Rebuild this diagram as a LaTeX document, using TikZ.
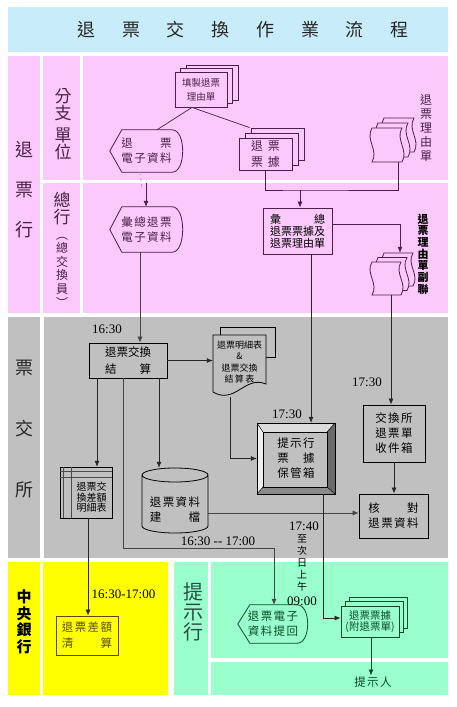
\documentclass[tikz,border=0pt]{standalone}
\usepackage{fontspec}
\setmainfont{Liberation Serif}
\newfontfamily\cjk{Noto Sans CJK TC}
\newfontfamily\cjkw[LetterSpace=12]{Noto Sans CJK TC}
\usetikzlibrary{calc,arrows.meta}
\pgfdeclarelayer{lane}
\pgfdeclarelayer{back}
\pgfsetlayers{lane,back,main}
\definecolor{tblue}{HTML}{C8ECFA}
\definecolor{pinkbg}{HTML}{FBC9FB}
\definecolor{graybg}{HTML}{C0C0C0}
\definecolor{yelbg}{HTML}{FFFF00}
\definecolor{grnbg}{HTML}{99FFCC}
\definecolor{pinkln}{HTML}{4A2048}
\definecolor{grnln}{HTML}{0A4A2A}
\definecolor{yelln}{HTML}{5A4A00}
\definecolor{lnk}{HTML}{262626}
\definecolor{lnsoft}{HTML}{454545}
\definecolor{bvA}{HTML}{DCDCDC}
\definecolor{bvB}{HTML}{EEEEEE}
\definecolor{bvC}{HTML}{6A6A6A}
\definecolor{bvD}{HTML}{8A8A8A}
\definecolor{tiship}{HTML}{2C4C44}
\newcommand\fsz[2]{\fontsize{#1}{#2}\selectfont}
\newcommand\dispshape[2]{%
  \draw[#2] (#1.west) -- ($(#1.north west)+(12,0)$) -- ($(#1.north east)+(-11,0)$)
    .. controls ($(#1.north east)+(3,0)$) and ($(#1.south east)+(3,0)$) .. ($(#1.south east)+(-11,0)$)
    -- ($(#1.south west)+(12,0)$) -- cycle;}
\newcommand\wavesheet[5]{%
  \draw[#5] (#1,#2) -- ({#1+#3},#2)
    .. controls ({#1+#3-7},{#2+0.35*#4}) and ({#1+#3+7},{#2+0.65*#4}) .. ({#1+#3},{#2+#4})
    -- (#1,{#2+#4})
    .. controls ({#1+7},{#2+0.65*#4}) and ({#1-7},{#2+0.35*#4}) .. (#1,#2) -- cycle;}
\begin{document}
\begin{tikzpicture}[x=1pt,y=-1pt,
  ptext/.style={inner sep=0pt, align=center, text=pinkln, font=\cjkw\fsz{11.5}{15}},
  pbox/.style={ptext, draw=pinkln, fill=pinkbg, line width=0.8pt},
  pshape/.style={draw=pinkln, fill=pinkbg, line width=0.8pt},
  gtext/.style={inner sep=0pt, align=center, text=black, font=\cjkw\fsz{11.5}{15}},
  gbox/.style={gtext, draw=black, fill=graybg, line width=0.8pt},
  gshape/.style={draw=black, fill=graybg, line width=0.8pt},
  ybox/.style={inner sep=0pt, align=center, text=yelln, font=\cjkw\fsz{11.5}{16}, draw=yelln, fill=yelbg, line width=0.8pt},
  gntext/.style={inner sep=0pt, align=center, text=grnln, font=\cjkw\fsz{11.5}{15}},
  gnbox/.style={gntext, draw=grnln, fill=grnbg, line width=0.8pt},
  gnshape/.style={draw=grnln, fill=grnbg, line width=0.8pt},
  vt/.style={inner sep=0pt, align=center},
  tm/.style={inner sep=0pt, font=\fsz{13}{13}, text=black},
  pln/.style={draw=pinkln, line width=0.7pt},
  parr/.style={pln, -{Latex[length=6pt,width=5pt]}},
  gln/.style={draw=lnk, line width=0.7pt},
  garr/.style={gln, -{Latex[length=6pt,width=5pt]}},
  sarr/.style={draw=lnsoft, line width=0.6pt, -{Latex[length=6pt,width=5pt]}},
  gnarr/.style={draw=grnln, line width=0.7pt, -{Latex[length=6pt,width=5pt]}}]
\useasboundingbox (0,0) rectangle (456,707);
% ---------- lanes ----------
\begin{pgfonlayer}{lane}
\fill[white] (0,0) rectangle (456,707);
\fill[tblue] (8,7) rectangle (448,52);
\fill[pinkbg] (8,56) rectangle (40,313);
\fill[pinkbg] (43,56) rectangle (80,180);
\fill[pinkbg] (43,183) rectangle (80,313);
\fill[pinkbg] (83,56) rectangle (448,180);
\fill[pinkbg] (83,183) rectangle (448,313);
\fill[graybg] (8,317) rectangle (40,558);
\fill[graybg] (44,317) rectangle (448,558);
\fill[yelbg] (8,562) rectangle (40,695);
\fill[yelbg] (43,562) rectangle (168,695);
\fill[grnbg] (174,562) rectangle (208,695);
\fill[grnbg] (211,562) rectangle (448,658);
\fill[grnbg] (211,662) rectangle (448,695);
\end{pgfonlayer}
% ---------- lane labels ----------
\node[vt, font=\cjk\fsz{18}{18}, text=black!85] (title) at (243,30)
  {退\hspace{26.7pt}票\hspace{26.7pt}交\hspace{26.7pt}換\hspace{26.7pt}作\hspace{26.7pt}業\hspace{26.7pt}流\hspace{26.7pt}程};
\node[vt, font=\cjk\fsz{18}{40}, text=pinkln] (lblA) at (24,190) {退\\票\\行};
\node[vt, font=\cjk\fsz{17}{17}, text=pinkln] (lblB) at (63,124) {分\\支\\[5pt]單\\位};
\node[vt, font=\cjk\fsz{17}{17}, text=pinkln] (lblC) at (62,208.5) {總\\行};
\node[vt, font=\cjk\fsz{12}{13.6}, text=pinkln] (lblD) at (62,272) {︵\\總\\交\\換\\員\\︶};
\node[vt, font=\cjk\fsz{18}{61}, text=black!85] (lblE) at (24,429) {票\\交\\所};
\node[vt, font=\cjk\bfseries\fsz{15}{16.5}, text=black] (lblF) at (24,622) {中\\央\\銀\\行};
\node[vt, font=\cjk\fsz{20}{20}, text=tiship] (lblG) at (193,612) {提\\示\\行};
% ---------- helper coordinates ----------
\coordinate (X88) at (88,0);   \coordinate (X97) at (97,0);
\coordinate (X123) at (123,0); \coordinate (X140) at (140,0);
\coordinate (X157) at (157,0); \coordinate (X159) at (159,0);
\coordinate (X192) at (192,0); \coordinate (X230) at (230,0);
\coordinate (X311) at (311,0); \coordinate (X323) at (323,0);
\coordinate (X371) at (371,0); \coordinate (X391) at (391,0);
\coordinate (X398) at (398,0); \coordinate (X400) at (400,0);
\coordinate (Y513) at (0,513); \coordinate (Y618) at (0,618);
\coordinate (J190) at (300,190);
\coordinate (C183) at (146,183);
\coordinate (K548) at (274,548);
% ---------- pink nodes ----------
\node[pbox, font=\cjk\fsz{9.5}{14}, minimum width=52pt, minimum height=35pt] (tianzhi) at (201,89.5) {填製退票\\理由單};
\node[ptext, minimum width=73pt, minimum height=42pt] (dianzi) at (146.5,151) {退　　票\\電子資料};
\node[pbox, font=\cjk\fsz{12}{16.5}, minimum width=53pt, minimum height=32pt] (piaoju) at (265.5,154) {退\hspace{5pt}票\\票\hspace{5pt}據};
\node[inner sep=0pt, minimum width=42pt, minimum height=44pt] (liyou) at (393,140) {};
\node[vt, font=\cjk\fsz{12}{14}, text=pinkln] (liyoulbl) at (426,128) {退\\票\\理\\由\\單};
\node[pbox, font=\cjk\fsz{11}{12}, text=black, align=left, minimum width=69pt, minimum height=46pt] (hp) at (297.5,231) {彙　　　總\\退票票據及\\退票理由單};
\node[inner sep=0pt, minimum width=42pt, minimum height=42pt] (fulian) at (392.5,274) {};
\node[vt, font=\cjk\bfseries\fsz{11}{11.7}, text=black] (fulianlbl) at (423,254) {退\\票\\理\\由\\單\\副\\聯};
\node[ptext, minimum width=73pt, minimum height=45pt] (huizonge) at (146.5,229.5) {彙總退票\\電子資料};
% ---------- gray nodes ----------
\node[gbox, font=\cjk\fsz{11.5}{17}, minimum width=78pt, minimum height=35pt] (jiesuan) at (128,360.5) {退票交換\\結　　算};
\node[gtext, font=\cjk\fsz{9}{11.5}, minimum width=53pt, minimum height=54pt] (mingxi) at (239.5,362) {退票明細表\\\&\\退票交換\\結\,算\,表};
\node[gtext, minimum width=78pt, minimum height=71pt] (baoguan) at (296,458.5) {提示行\\票　據\\保管箱};
\node[gbox, minimum width=62pt, minimum height=57pt] (jiaohuan) at (394,433.5) {交換所\\退票單\\收件箱};
\node[gbox, minimum width=69pt, minimum height=44pt] (hedui) at (393.5,516) {核　　對\\退票資料};
\node[gtext, font=\cjk\fsz{10}{10.5}, minimum width=41pt, minimum height=41pt] (chae) at (91.5,497.5) {退票交\\換差額\\明細表};
\node[gtext, minimum width=66pt, minimum height=40pt] (jiandang) at (175,510) {退票資料\\建　　檔};
% ---------- yellow / green nodes ----------
\node[ybox, minimum width=62pt, minimum height=39pt] (qingsuan) at (87,635.5) {退票差額\\清　　算};
\node[gntext, minimum width=70pt, minimum height=38pt] (tihui) at (273,624) {退票電子\\資料提回};
\node[gnbox, font=\cjk\fsz{10.5}{11}, minimum width=58pt, minimum height=31pt] (tpj) at (370,621.5) {退票票據\\(附退票單)};
\node[gntext] (tishiren) at (373,682) {提示人};
% ---------- time labels ----------
\node[tm] (t1630) at (107,329) {16:30};
\node[tm] (t1730a) at (287,414) {17:30};
\node[tm] (t1730b) at (367,382) {17:30};
\node[tm] (t1630b) at (218,541) {16:30 -{}- 17:00};
\node[tm] (t1740) at (304,526) {17:40};
\node[vt, font=\cjk\fsz{10}{12}, text=black] (zhi) at (302,563) {至\\次\\日\\上\\午};
\node[tm] (t0900) at (302,601) {09:00};
\node[tm] (t1630c) at (123.5,594) {16:30-17:00};
% ---------- shapes ----------
\begin{pgfonlayer}{back}
% multi documents (back sheets)
\draw[pshape] (186,65) rectangle (238,100);
\draw[pshape] (180.5,68.5) rectangle (232.5,103.5);
\draw[pshape] (251,128) rectangle (304,160);
\draw[pshape] (245,133) rectangle (298,165);
\draw[gnshape] (349,597) rectangle (407,628);
\draw[gnshape] (345,601.5) rectangle (403,632.5);
% display shapes
\dispshape{dianzi}{pshape}
\dispshape{huizonge}{pshape}
\dispshape{tihui}{gnshape}
% wavy sheet stacks
\wavesheet{384}{118}{30}{34}{pshape}
\wavesheet{378}{123}{30}{34}{pshape}
\wavesheet{372}{128}{30}{34}{pshape}
\wavesheet{384}{253}{29}{33}{pshape}
\wavesheet{378}{257.5}{29}{33}{pshape}
\wavesheet{372}{262}{29}{33}{pshape}
% document with wavy bottom
\draw[gshape] (220,327) rectangle (275,357);
\draw[gshape] (213,335) -- (266,335) -- (266,384)
  .. controls (245,375) and (235,405) .. (213,392) -- cycle;
% bevelled box
\fill[bvA] (257,423) -- (335,423) -- (327,432) -- (263,432) -- cycle;
\fill[bvB] (257,423) -- (263,432) -- (263,487) -- (257,494) -- cycle;
\fill[bvC] (335,423) -- (335,494) -- (327,487) -- (327,432) -- cycle;
\fill[bvD] (257,494) -- (263,487) -- (327,487) -- (335,494) -- cycle;
\draw[black, line width=0.8pt] (257,423) rectangle (335,494);
\draw[black, line width=0.6pt] (263,432) rectangle (327,487);
\draw[black, line width=0.5pt] (257,423) -- (263,432) (335,423) -- (327,432)
  (257,494) -- (263,487) (335,494) -- (327,487);
% internal storage
\draw[gshape] (60,467) rectangle (112,518);
\draw[draw=black!70, line width=0.5pt] (60,471) -- (112,471) (60,477) -- (112,477)
  (63,467) -- (63,518) (71,467) -- (71,518);
% cylinder
\draw[gshape] (142,475) -- (142,526)
  arc[start angle=180, end angle=360, x radius=33pt, y radius=7pt] -- (208,475)
  arc[start angle=0, end angle=180, x radius=33pt, y radius=7pt]
  arc[start angle=180, end angle=360, x radius=33pt, y radius=7pt];
\end{pgfonlayer}
% ---------- connectors ----------
\draw[pln] (tianzhi.south -| X192) -- (dianzi.north -| X157);
\draw[pln] (tianzhi.south -| X192) -- ($(piaoju.north west)+(11,-10)$);
\draw[pln] (piaoju.south) |- (J190) -| (liyou.south -| X398);
\draw[parr] (J190) -- (hp.north -| J190);
\draw[parr] ($(hp.north east)+(0,17)$) -| (fulian.north -| X400);
\draw[draw=black!35, line width=0.6pt, dashed] (dianzi.south -| X140) -- ++(2,17);
\draw[parr] (C183) -- (huizonge.north -| C183);
\draw[sarr] (huizonge.south -| X140) -- (jiesuan.north -| X140);
\draw[garr] (fulian.south -| X391) -- (jiaohuan.north -| X391);
\draw[garr] (hp.south -| X311) -- (baoguan.north -| X311);
\draw[garr] (jiesuan.east) -- (mingxi.west |- jiesuan.east);
\draw[garr] ($(mingxi.south -| X230)+(0,8)$) |- (baoguan.west);
\draw[garr] (jiesuan.south -| X97) -- ($(chae.north -| X97)+(0,-10)$);
\draw[garr] (jiesuan.south -| X159) -- ($(jiandang.north -| X159)+(0,-22)$);
\draw[sarr] (jiesuan.south -| X123) |- (K548) -- (tihui.north -| K548);
\draw[sarr] (jiandang.east |- Y513) -- (hedui.west |- Y513);
\draw[garr] (jiaohuan.south) -- (hedui.north -| jiaohuan.south);
\draw[garr] (baoguan.south -| X323) |- (tpj.west |- Y618);
\draw[garr] (chae.south -| X88) -- (qingsuan.north -| X88);
\draw[gnarr] (tpj.south -| X371) -- ($(tishiren.north -| X371)+(0,-1)$);
\end{tikzpicture}
\end{document}
